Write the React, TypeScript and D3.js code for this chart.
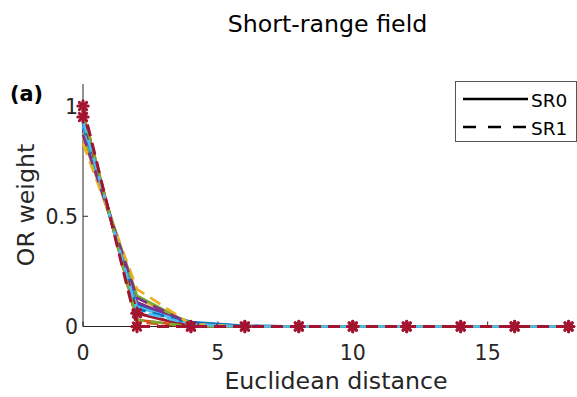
import React from "react";
import * as d3 from "d3";

// Euclidean distance at which each weight was sampled
const distances = [0, 2, 4, 6, 8, 10, 12, 14, 16, 18];

// MATLAB default colour order
const palette = ["#0072BD", "#D95319", "#EDB120", "#7E2F8E", "#77AC30", "#4DBEEE", "#A2142F"];

// OR weights, SR0 (solid lines), one row per colour
const sr0 = [
  [0.90, 0.10, 0.02, 0.003, 0, 0, 0, 0, 0, 0],
  [0.97, 0.03, 0.0, 0, 0, 0, 0, 0, 0, 0],
  [0.86, 0.13, 0.01, 0, 0, 0, 0, 0, 0, 0],
  [0.89, 0.11, 0.01, 0, 0, 0, 0, 0, 0, 0],
  [0.88, 0.14, 0.01, 0, 0, 0, 0, 0, 0, 0],
  [0.91, 0.09, 0.01, 0, 0, 0, 0, 0, 0, 0],
  [0.95, 0.06, 0.0, 0, 0, 0, 0, 0, 0, 0],
];

// OR weights, SR1 (dashed lines)
const sr1 = [
  [0.92, 0.08, 0.015, 0.002, 0, 0, 0, 0, 0, 0],
  [0.98, 0.02, 0.0, 0, 0, 0, 0, 0, 0, 0],
  [0.83, 0.17, 0.01, 0, 0, 0, 0, 0, 0, 0],
  [0.87, 0.13, 0.01, 0, 0, 0, 0, 0, 0, 0],
  [0.97, 0.03, 0.0, 0, 0, 0, 0, 0, 0, 0],
  [0.93, 0.07, 0.01, 0, 0, 0, 0, 0, 0, 0],
  [1.0, 0.0, 0.0, 0, 0, 0, 0, 0, 0, 0],
];

const xTicks = [0, 5, 10, 15];
const yTicks = [0, 0.5, 1];
const legendLabels = ["SR0", "SR1"];

const W = 577;
const H = 397;
const FONT = "'DejaVu Sans', Verdana, sans-serif";
const INK = "#262626";

export default function App() {
  const x = d3.scaleLinear().domain([0, 18.2]).range([83, 574]);
  const y = d3.scaleLinear().domain([0, 1.1]).range([326.5, 84]);
  const line = d3
    .line<number>()
    .x((_, i) => x(distances[i]))
    .y((v) => y(v));

  const markerIdx = palette.length - 1;
  const dash = "12,7";

  const star = (cx: number, cy: number, key: string) => {
    const r = 5.2;
    const segs = [0, 45, 90, 135].map((a) => {
      const t = (a * Math.PI) / 180;
      return (
        <line
          key={a}
          x1={cx - r * Math.cos(t)}
          y1={cy - r * Math.sin(t)}
          x2={cx + r * Math.cos(t)}
          y2={cy + r * Math.sin(t)}
        />
      );
    });
    return (
      <g key={key} stroke={palette[markerIdx]} strokeWidth={3} strokeLinecap="round">
        <circle cx={cx} cy={cy} r={3} fill={palette[markerIdx]} stroke="none" />
        {segs}
      </g>
    );
  };

  const groups = [
    { rows: sr0, dashed: false },
    { rows: sr1, dashed: true },
  ];

  return (
    <svg
      width={W}
      height={H}
      style={{ position: "absolute", left: 0, top: 0, background: "#fff" }}
      fontFamily={FONT}
    >
      <rect width={W} height={H} fill="#fff" />
      {/* title and panel tag */}
      <text x={327.5} y={32} textAnchor="middle" fontSize={23.7} fill="#000">
        Short-range field
      </text>
      <text x={10} y={101} fontSize={20.8} fontWeight="bold" fill="#000">
        (a)
      </text>

      {/* axes */}
      <g stroke={INK} strokeWidth={1} fill="none">
        <line x1={83} y1={84} x2={83} y2={326.5} />
        <line x1={83} y1={326.5} x2={575} y2={326.5} />
        {xTicks.map((t) => (
          <line key={t} x1={x(t)} x2={x(t)} y1={326.5} y2={321.5} />
        ))}
        {yTicks.map((t) => (
          <line key={t} x1={83} x2={88} y1={y(t)} y2={y(t)} />
        ))}
      </g>
      {xTicks.map((t) => (
        <text key={t} x={x(t)} y={360} textAnchor="middle" fontSize={20.5} fill={INK}>
          {t}
        </text>
      ))}
      {yTicks.map((t) => (
        <text key={t} x={78} y={y(t) + 7.5} textAnchor="end" fontSize={20.5} fill={INK}>
          {t}
        </text>
      ))}
      <text x={336} y={389} textAnchor="middle" fontSize={23.7} fill={INK}>
        Euclidean distance
      </text>
      <text
        transform={`translate(34,205) rotate(-90)`}
        textAnchor="middle"
        fontSize={23.7}
        fill={INK}
      >
        OR weight
      </text>

      {/* weight curves */}
      {groups.map((g, gi) =>
        g.rows.map((row, ci) => (
          <path
            key={`${gi}-${ci}`}
            d={line(row) ?? ""}
            fill="none"
            stroke={palette[ci]}
            strokeWidth={ci === markerIdx ? 3 : 2.7}
            strokeDasharray={g.dashed ? dash : undefined}
          />
        ))
      )}
      {groups.map((g, gi) =>
        g.rows[markerIdx].map((v, i) => star(x(distances[i]), y(v), `m${gi}-${i}`))
      )}

      {/* legend */}
      <rect x={455.5} y={81.5} width={121} height={60} fill="#fff" stroke="#555" strokeWidth={1} />
      {legendLabels.map((lab, i) => (
        <g key={lab}>
          <line
            x1={463}
            x2={528}
            y1={99 + i * 28}
            y2={99 + i * 28}
            stroke="#000"
            strokeWidth={2.5}
            strokeDasharray={i === 1 ? "13,12" : undefined}
          />
          <text x={531} y={107 + i * 28} fontSize={18.5} fill="#000">
            {lab}
          </text>
        </g>
      ))}
    </svg>
  );
}
